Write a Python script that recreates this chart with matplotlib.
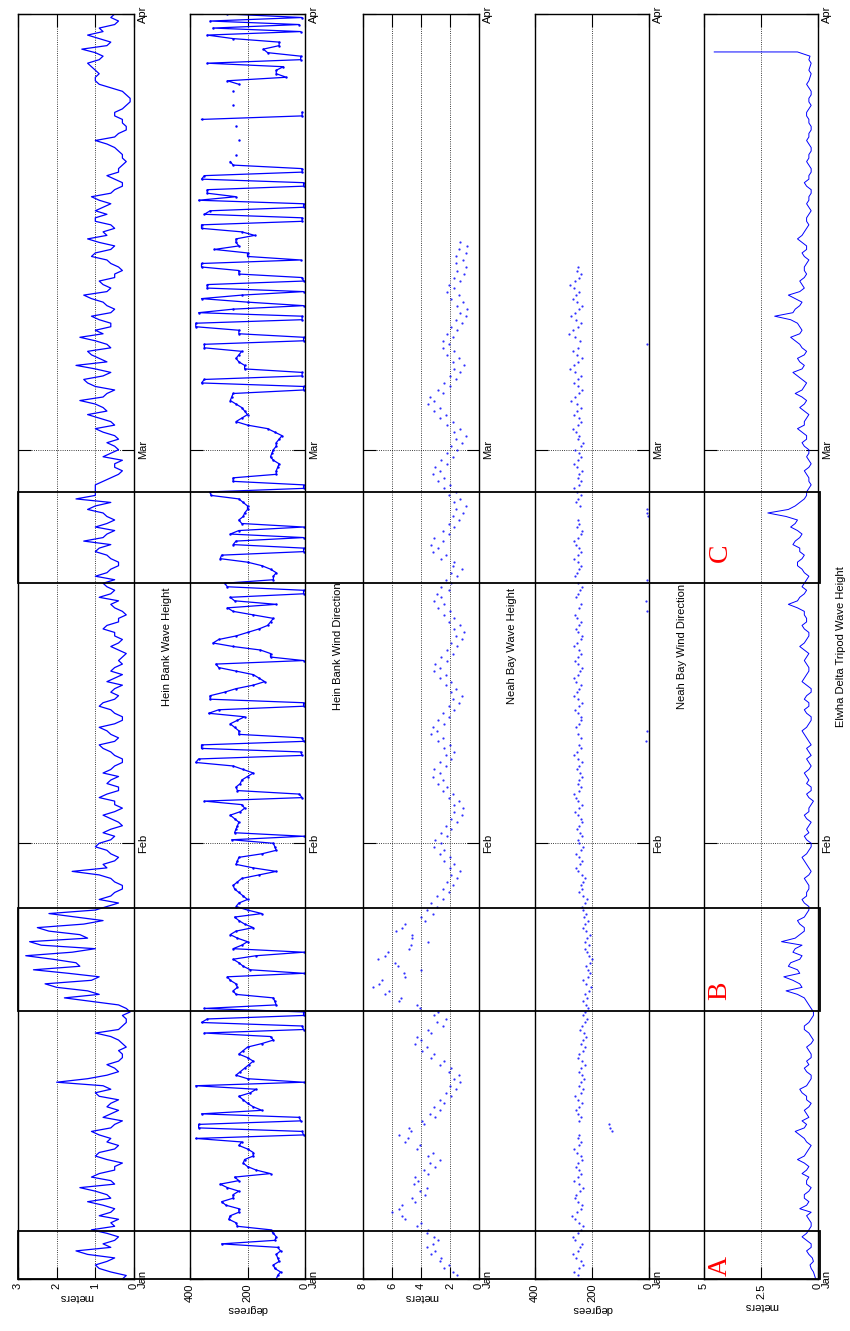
import numpy as np
import matplotlib
matplotlib.use("Agg")
import matplotlib.pyplot as plt
from matplotlib.patches import Rectangle

plt.rcParams['font.family'] = ['Liberation Sans', 'DejaVu Sans']

# time axis: days since Jan 1
month_days = [0, 31, 59, 90]
month_names = ['Jan', 'Feb', 'Mar', 'Apr']
nan = np.nan

# Hein Bank wave height (m), every 6 h
hein_wave = [
    0.3, 0.2, 0.6, 0.9, 1.0, 0.7, 0.5, 1.2,
    1.5, 0.6, 0.8, 0.5, 0.4, 0.7, 1.1, 0.5,
    0.6, 0.4, 0.9, 0.6, 0.5, 0.8, 1.2, 0.6,
    0.7, 1.0, 1.4, 0.5, 0.6, 1.1, 0.9, 0.5,
    0.5, 0.3, 0.7, 1.0, 0.9, 0.5, 0.4, 0.7,
    0.6, 0.9, 1.1, 0.6, 0.5, 0.3, 0.8, 0.6,
    0.4, 0.7, 0.6, 0.4, 0.9, 1.0, 0.6, 0.8,
    2.0, 1.2, 0.7, 0.4, 0.5, 0.7, 0.4, 0.3,
    0.3, 0.4, 0.2, 0.3, 0.4, 0.6, 1.0, 0.4,
    0.3, 0.2, 0.2, 0.3, 0.1, 0.2, 0.4, 1.1,
    1.8, 0.9, 1.2, 2.0, 2.3, 1.1, 0.9, 1.7,
    2.6, 1.4, 1.5, 2.1, 2.8, 1.6, 1.0, 2.4,
    2.7, 1.2, 1.4, 2.2, 2.5, 1.3, 0.8, 1.5,
    2.2, 1.0, 0.7, 0.4, 0.9, 0.6, 0.5, 0.3,
    0.3, 0.5, 0.6, 0.9, 1.6, 0.7, 0.8, 0.5,
    0.4, 0.6, 0.7, 1.0, 0.9, 0.6, 0.5, 0.8,
    0.6, 0.3, 0.4, 0.6, 0.8, 0.5, 0.3, 0.5,
    0.5, 0.9, 0.7, 0.4, 0.4, 0.7, 0.6, 0.4,
    0.8, 0.6, 0.5, 0.3, 0.3, 0.5, 0.6, 0.8,
    0.9, 0.5, 0.4, 0.6, 0.7, 0.9, 0.5, 0.3,
    0.3, 0.5, 0.6, 0.9, 0.8, 0.5, 0.4, 0.6,
    0.5, 0.3, 0.7, 0.5, 0.3, 0.6, 0.5, 0.3,
    0.4, 0.3, 0.2, 0.4, 0.6, 0.4, 0.3, 0.5,
    0.5, 0.8, 0.7, 0.4, 0.4, 0.2, 0.3, 0.5,
    0.6, 0.4, 0.9, 0.6, 0.5, 0.7, 0.8, 0.5,
    1.0, 0.7, 0.6, 0.4, 0.4, 0.6, 0.7, 1.0,
    0.9, 0.6, 1.3, 0.8, 0.7, 0.5, 1.0, 0.7,
    0.5, 0.7, 0.8, 1.2, 1.0, 0.6, 1.5, 1.0,
    1.0, 1.0, 1.0, 0.8, 0.6, 0.4, 0.3, 0.5,
    0.5, 0.3, 0.8, 0.6, 0.4, 0.5, 0.7, 0.4,
    0.5, 0.8, 1.0, 0.5, 0.6, 0.9, 1.2, 0.7,
    0.8, 1.0, 1.4, 0.8, 0.7, 0.5, 1.0, 1.2,
    1.3, 0.8, 0.6, 1.0, 1.5, 0.7, 0.9, 1.1,
    1.2, 0.6, 0.7, 1.0, 1.4, 0.8, 1.0, 0.6,
    0.6, 0.9, 1.1, 0.6, 0.5, 0.7, 0.8, 1.1,
    1.3, 0.7, 0.6, 0.8, 0.9, 0.5, 0.5, 0.3,
    0.4, 0.6, 0.7, 1.1, 1.0, 0.6, 0.5, 0.9,
    1.2, 0.7, 0.8, 0.5, 0.6, 1.0, 1.0, 0.7,
    1.0, 0.8, 0.6, 0.9, 1.1, 0.6, 0.5, 0.3,
    0.3, 0.5, 0.7, 0.4, 0.4, 0.3, 0.2, 0.3,
    0.3, 0.4, 0.5, 0.7, 1.0, 0.5, 0.4, 0.2,
    0.2, 0.3, 0.3, 0.5, 0.5, 0.3, 0.2, 0.1,
    0.1, 0.2, 0.3, 0.6, 0.9, 1.0, 1.0, 0.9,
    1.0, 1.1, 1.2, 0.9, 0.8, 1.0, 1.35, 0.7,
    0.6, 0.9, 1.2, 0.8, 0.9, 0.5, 0.4, 0.6,
    0.5,
]

# Hein Bank wind direction (degrees), every 6 h; jumps across 0/360 draw long bars
hein_dir = [
    100, 95, 85, 105, 110, 90, 95, 100,
    85, 95, 290, 105, 100, 110, 120, 235,
    240, 265, 260, 230, 230, 275, 290, 250,
    250, 230, 270, 295, 230, 245, 120, 170,
    200, 215, 210, 180, 180, 200, 230, 220,
    380, 5, 10, 370, 370, 15, 20, 360,
    150, 180, 200, 215, 230, 190, 170, 380,
    5, 200, 240, 225, 210, 195, 180, 200,
    230, 215, 200, 150, 110, 120, 350, 5,
    10, 360, 340, 5, 5, 350, 100, 105,
    110, 240, 250, 235, 240, 260, 270, 5,
    190, 215, 230, 250, 170, 5, 250, 220,
    200, 235, 260, 240, 180, 210, 230, 245,
    150, 200, 240, 230, 200, 215, 230, 245,
    250, 235, 220, 160, 100, 180, 240, 235,
    230, 150, 100, 105, 110, 255, 5, 245,
    240, 235, 230, 245, 260, 225, 210, 220,
    350, 10, 20, 235, 240, 225, 220, 200,
    180, 215, 250, 380, 370, 10, 15, 360,
    360, 5, 10, 230, 230, 245, 260, 235,
    210, 335, 300, 5, 5, 330, 330, 280,
    240, 180, 140, 160, 180, 240, 300, 310,
    5, 120, 120, 155, 250, 320, 300, 240,
    200, 160, 130, 120, 110, 180, 250, 270,
    100, 245, 260, 5, 5, 270, 280, 110,
    110, 100, 120, 150, 200, 295, 290, 5,
    5, 250, 240, 5, 260, 230, 5, 220,
    230, 215, 210, 200, 200, 215, 230, 327,
    330, 5, 5, 250, 250, 100, 100, 95,
    90, 110, 120, 115, 110, 100, 100, 90,
    80, 105, 130, 200, 240, 220, 200, 210,
    220, 240, 260, 255, 250, 5, 5, 360,
    350, 10, 10, 210, 210, 230, 240, 230,
    220, 350, 350, 5, 5, 230, 230, 380,
    380, 10, 10, 370, 250, 5, 200, 360,
    220, 5, 340, 340, 5, 10, 230, 230,
    360, 360, 15, 200, 200, 315, 230, 240,
    240, 175, 220, 360, 360, 10, 10, 350,
    330, 5, 5, 370, 240, 340, 340, 5,
    5, 360, 350, 10, 10, 250, 260, nan,
    240, nan, nan, nan, 230, nan, nan, nan,
    240, nan, 360, 10, 10, nan, 250, nan,
    nan, nan, 250, nan, 230, 270, 65, 100,
    100, 75, 340, 15, 15, 130, 145, 90,
    90, 250, 340, 15, 320, 20, 330, 10,
    270,
]

# Neah Bay wave height (m), every 6 h
neah_wave = [
    2.0, 1.5, 1.8, 2.4, 2.1, 2.7, 2.6, 3.3,
    3.0, 3.6, 3.2, 2.8, 3.1, 3.6, 3.5, 4.3,
    4.0, 5.1, 5.3, 6.0, 5.5, 5.3, 4.4, 4.6,
    3.7, 4.1, 3.6, 4.5, 4.2, 4.4, 3.5, 3.8,
    3.0, 3.4, 2.7, 3.5, 3.2, 4.3, 4.1, 5.1,
    4.9, 5.5, 4.7, 4.8, 3.8, 3.9, 3.0, 3.4,
    2.7, 3.1, 2.4, 2.7, 1.9, 2.3, 1.6, 2.0,
    1.3, 1.7, 1.4, 2.1, 1.9, 2.7, 2.4, 3.3,
    3.1, 3.9, 3.6, 4.4, 4.0, 4.3, 3.3, 3.5,
    2.5, 2.9, 2.3, 3.1, 2.8, 4.1, 4.3, 5.5,
    5.4, 6.5, 6.2, 7.3, 6.9, 6.7, 5.1, 5.2,
    4.0, 5.6, 5.8, 7.0, 6.5, 6.3, 4.8, 4.7,
    3.5, 4.6, 4.6, 5.7, 5.3, 5.1, 3.7, 4.0,
    3.2, 3.6, 2.9, 3.3, 2.5, 2.9, 2.1, 2.5,
    1.8, 2.2, 1.5, 1.9, 1.3, 2.0, 1.7, 2.4,
    2.0, 2.7, 2.4, 3.1, 2.6, 3.0, 2.2, 2.6,
    1.9, 2.3, 1.5, 1.9, 1.2, 1.7, 1.1, 1.7,
    1.4, 2.1, 1.8, 2.5, 2.2, 2.8, 2.5, 3.2,
    2.7, 3.1, 2.3, 2.7, 1.9, 2.3, 1.7, 2.4,
    2.0, 2.8, 2.5, 3.3, 2.9, 3.2, 2.4, 2.8,
    2.1, 2.5, 1.7, 2.1, 1.4, 1.8, 1.2, 1.9,
    1.6, 2.3, 1.9, 2.7, 2.3, 3.1, 2.7, 3.0,
    2.2, 2.6, 1.8, 2.2, 1.5, 1.9, 1.2, 1.6,
    1.0, 1.7, 1.3, 2.1, 1.7, 2.4, 2.0, 2.8,
    2.4, 3.1, 2.6, 2.9, 2.1, 2.6, 1.9, 2.3,
    1.5, 1.9, 1.2, 1.8, 1.7, 2.6, 2.3, 3.2,
    2.8, 3.3, 2.5, 3.1, 2.1, 2.5, 1.7, 2.1,
    1.4, 1.8, 1.1, 1.6, 0.9, 1.7, 1.3, 2.1,
    1.6, 2.4, 2.0, 2.8, 2.4, 3.2, 2.7, 3.0,
    2.2, 2.6, 1.8, 2.2, 1.5, 1.9, 1.2, 1.6,
    0.9, 1.7, 1.3, 2.2, 1.8, 2.7, 2.3, 3.1,
    2.7, 3.5, 3.1, 3.4, 2.5, 2.8, 2.0, 2.4,
    1.6, 2.0, 1.3, 1.7, 1.0, 1.8, 1.4, 2.2,
    1.7, 2.5, 2.1, 2.5, 1.8, 2.2, 1.5, 1.9,
    1.2, 1.6, 0.9, 1.3, 0.8, 1.5, 1.1, 1.9,
    1.4, 2.2, 1.7, 2.1, 1.3, 1.7, 1.0, 1.5,
    0.9, 1.6, 1.1, 1.6, 0.9, 1.4, 0.8, 1.3,
]

# Neah Bay wind direction (degrees), every 6 h
neah_dir = [
    240, 250, 262, 245, 230, 238, 255, 268,
    250, 242, 235, 258, 265, 248, 240, 232,
    245, 258, 270, 252, 240, 236, 248, 260,
    255, 242, 230, 246, 262, 250, 238, 244,
    256, 248, 236, 240, 252, 262, 246, 238,
    250, 244, 130, 138, 142, 246, 238, 250,
    256, 244, 236, 248, 258, 240, 232, 245,
    238, 228, 234, 246, 240, 226, 236, 250,
    244, 232, 226, 238, 232, 220, 228, 242,
    236, 224, 218, 230, 226, 214, 222, 232,
    218, 226, 212, 205, 222, 230, 215, 208,
    214, 222, 206, 200, 210, 218, 224, 212,
    226, 216, 208, 220, 232, 224, 214, 228,
    222, 230, 236, 226, 218, 232, 244, 236,
    240, 230, 224, 236, 248, 256, 242, 236,
    246, 256, 240, 232, 244, 250, 236, 242,
    254, 246, 236, 240, 250, 258, 244, 236,
    248, 256, 262, 246, 238, 250, 244, 236,
    242, 254, 246, 236, 248, 262, 252, 240,
    246, 10, 238, 250, 8, 256, 246, 240,
    238, 250, 258, 244, 236, 248, 262, 254,
    246, 240, 256, 264, 250, 242, 236, 248,
    258, 250, 240, 246, 262, 252, 240, 234,
    248, 256, 244, 238, 252, 260, 8, 246,
    240, 12, 256, 248, 242, 236, 250, 6,
    260, 252, 244, 238, 250, 262, 248, 240,
    246, 256, 264, 250, 240, 236, 254, 246,
    250, 5, 8, 6, 242, 256, 248, 240,
    252, 262, 246, 238, 250, 244, 236, 252,
    264, 250, 240, 246, 258, 240, 232, 248,
    244, 256, 268, 250, 238, 246, 262, 252,
    240, 254, 272, 258, 246, 236, 250, 262,
    248, 240, 258, 276, 262, 248, 236, 254,
    266, 250, 8, 242, 260, 282, 268, 250,
    240, 256, 272, 260, 244, 236, 252, 268,
    256, 244, 262, 276, 258, 246, 240, 254,
    248,
]

# Elwha delta tripod wave height (m), every 6 h
elwha_wave = [
    0.1, 0.15, 0.2, 0.3, 0.35, 0.2, 0.25, 0.4,
    0.5, 0.3, 0.3, 0.5, 0.7, 0.5, 0.4, 0.3,
    0.3, 0.4, 0.5, 0.3, 0.8, 0.5, 0.4, 0.6,
    0.6, 0.4, 0.3, 0.5, 0.5, 0.4, 0.7, 0.5,
    0.4, 0.6, 0.9, 0.6, 0.5, 0.4, 0.3, 0.5,
    0.6, 0.8, 1.0, 0.6, 0.5, 0.7, 0.4, 0.5,
    0.6, 0.4, 0.3, 0.5, 0.5, 0.7, 0.8, 0.5,
    0.4, 0.3, 0.3, 0.5, 0.6, 0.4, 0.5, 0.3,
    0.3, 0.4, 0.5, 0.3, 0.2, 0.3, 0.4, 0.6,
    0.6, 0.4, 0.3, 0.2, 0.2, 0.3, 0.4, 0.5,
    0.6, 0.9, 1.4, 0.7, 0.8, 1.1, 1.5, 0.8,
    0.9, 1.3, 1.2, 0.8, 0.7, 1.1, 1.0, 0.7,
    1.6, 1.0, 0.8, 0.6, 0.6, 0.8, 0.9, 0.6,
    0.5, 0.4, 0.4, 0.6, 0.7, 0.5, 0.5, 0.4,
    0.4, 0.5, 0.6, 0.4, 0.3, 0.4, 0.5, 0.6,
    0.7, 0.5, 0.4, 0.3, 0.3, 0.5, 0.6, 0.4,
    0.5, 0.4, 0.3, 0.5, 0.6, 0.4, 0.4, 0.3,
    0.2, 0.4, 0.5, 0.3, 0.3, 0.5, 0.4, 0.5,
    0.6, 0.4, 0.3, 0.4, 0.5, 0.3, 0.4, 0.5,
    0.3, 0.4, 0.5, 0.6, 0.7, 0.5, 0.4, 0.3,
    0.3, 0.5, 0.6, 0.4, 0.4, 0.6, 0.5, 0.3,
    0.3, 0.5, 0.7, 0.6, 0.5, 0.4, 0.4, 0.5,
    0.6, 0.5, 0.4, 0.6, 0.8, 0.6, 0.5, 0.4,
    0.4, 0.6, 0.7, 0.5, 0.5, 0.6, 0.6, 0.9,
    1.3, 0.9, 0.8, 0.6, 0.5, 0.7, 0.6, 0.5,
    0.4, 0.6, 0.7, 0.9, 0.9, 0.7, 0.6, 0.8,
    0.8, 1.1, 1.0, 0.8, 0.7, 0.9, 1.2, 1.0,
    0.9, 1.4, 2.2, 1.3, 1.0, 0.8, 0.6, 0.5,
    0.5, 0.4, 0.3, 0.4, 0.4, 0.5, 0.6, 0.4,
    0.3, 0.4, 0.5, 0.4, 0.4, 0.6, 0.7, 0.5,
    0.5, 0.7, 0.9, 0.6, 0.6, 0.5, 0.4, 0.6,
    0.8, 0.6, 0.5, 0.7, 1.0, 0.7, 0.6, 0.5,
    0.7, 0.9, 1.1, 0.7, 0.6, 0.8, 0.9, 0.6,
    0.5, 0.7, 0.8, 1.0, 1.2, 0.8, 0.7, 0.8,
    0.9, 1.2, 1.9, 1.1, 1.0, 0.8, 0.7, 1.0,
    1.3, 0.8, 0.6, 0.7, 0.8, 0.6, 0.5, 0.6,
    0.6, 0.5, 0.4, 0.6, 0.7, 0.5, 0.5, 0.7,
    0.9, 0.7, 0.6, 0.5, 0.4, 0.5, 0.5, 0.4,
    0.3, 0.4, 0.5, 0.4, 0.4, 0.3, 0.3, 0.5,
    0.6, 0.4, 0.4, 0.3, 0.3, 0.4, 0.5, 0.4,
    0.4, 0.3, 0.3, 0.4, 0.5, 0.4, 0.4, 0.3,
    0.3, 0.4, 0.4, 0.5, 0.5, 0.4, 0.3, 0.4,
    0.4, 0.3, 0.3, 0.4, 0.5, 0.4, 0.35, 0.3,
    0.4, 0.35, 0.3, 0.4, 0.35,
]
# instrument recovered: last reading jumps off scale
elwha_tail_days = [87.3, 87.3]
elwha_tail = [0.9, 4.55]

# highlighted storm windows (days) and their letters
box_starts = [0.0, 19.05, 49.5]
box_ends = [3.4, 26.4, 56.0]
box_letters = ['A', 'B', 'C']
letter_days = [0.9, 20.5, 51.7]


def days_for(values, step=0.25):
    return np.arange(len(values)) * step


# panel left/width in pixels of an 850x1331 figure
W, H = 850, 1331
bottom_px, top_px = 1279, 14
panels = [
    dict(left=18, width=116, vmax=3, ticks=[0, 1, 2, 3], labels=['0', '1', '2', '3'],
         unit='meters', title='Hein Bank Wave Height', pad=10),
    dict(left=190, width=115, vmax=400, ticks=[0, 200, 400], labels=['0', '200', '400'],
         unit='degrees', title='Hein Bank Wind Direction', pad=10),
    dict(left=363, width=116, vmax=8, ticks=[0, 2, 4, 6, 8], labels=['0', '2', '4', '6', '8'],
         unit='meters', title='Neah Bay Wave Height', pad=10),
    dict(left=535, width=114, vmax=400, ticks=[0, 200, 400], labels=['0', '200', '400'],
         unit='degrees', title='Neah Bay Wind Direction', pad=10),
    dict(left=704, width=114, vmax=5, ticks=[0, 2.5, 5], labels=['0', '2.5', '5'],
         unit='meters', title='Elwha Delta Tripod Wave Height', pad=3),
]

fig = plt.figure(figsize=(W / 100, H / 100), dpi=100)
fb = (H - bottom_px) / H
fh = (bottom_px - top_px) / H

axes = []
for p in panels:
    ax = fig.add_axes([p['left'] / W, fb, p['width'] / W, fh])
    ax.set_xlim(p['vmax'], 0)
    ax.set_ylim(0, 90)
    ax.set_xticks(p['ticks'])
    ax.set_xticklabels(p['labels'], rotation=90)
    ax.set_yticks(month_days)
    ax.set_yticklabels(month_names, rotation=90, va='center')
    ax.tick_params(direction='in', length=9, width=0.8, top=True, bottom=True,
                   left=True, right=True, labelleft=False, labelright=True,
                   labelsize=8, pad=3)
    ax.grid(True, linestyle=':', color='k', linewidth=0.6)
    ax.set_xlabel(p['unit'], rotation=180, fontsize=8, labelpad=2)
    ax.yaxis.set_label_position('right')
    ax.set_ylabel(p['title'], rotation=90, fontsize=8, labelpad=p['pad'])
    for s in ax.spines.values():
        s.set_linewidth(1.0)
    axes.append(ax)

blue = '#0000ff'
axes[0].plot(hein_wave, days_for(hein_wave), color=blue, lw=0.9)
axes[1].plot(hein_dir, days_for(hein_dir), color=blue, lw=0.9,
             marker='.', ms=1.5)
axes[2].plot(neah_wave, days_for(neah_wave), '.', color=blue, ms=1.2, alpha=0.8)
axes[3].plot(neah_dir, days_for(neah_dir), '.', color=blue, ms=1.2, alpha=0.8)
axes[4].plot(elwha_wave + elwha_tail, list(days_for(elwha_wave)) + elwha_tail_days,
             color=blue, lw=0.7)

for letter, d in zip(box_letters, letter_days):
    axes[4].text(4.3, d, letter, rotation=90, color='red', fontsize=20,
                 family='Liberation Serif', ha='center', va='center')

# boxes spanning all five panels
ax_box = fig.add_axes([18 / W, fb, (820 - 18) / W, fh])
ax_box.set_xlim(0, 1)
ax_box.set_ylim(0, 90)
ax_box.axis('off')
for s, e in zip(box_starts, box_ends):
    ax_box.add_patch(Rectangle((0, s), 1, e - s, fill=False, lw=1.3,
                               edgecolor='k', clip_on=False))

fig.savefig('out.png', dpi=100)
